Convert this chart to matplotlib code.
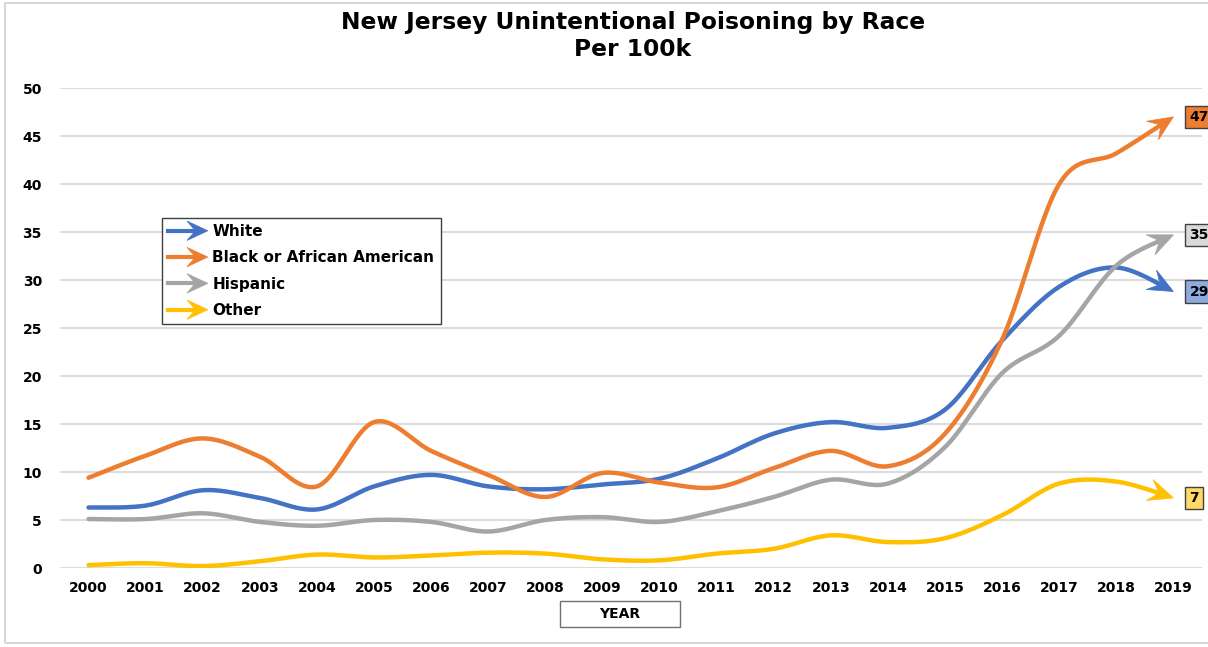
import numpy as np
import matplotlib.pyplot as plt
from matplotlib.lines import Line2D
from matplotlib.patches import Polygon, Rectangle
from matplotlib.transforms import IdentityTransform
from matplotlib.legend_handler import HandlerBase

# Unintentional poisoning rate per 100k, New Jersey
years = list(range(2000, 2020))
white = [6.3, 6.5, 8.1, 7.3, 6.1, 8.5, 9.7, 8.5, 8.2, 8.7,
         9.3, 11.4, 14.0, 15.2, 14.6, 16.5, 23.7, 29.3, 31.3, 28.8]
black = [9.4, 11.7, 13.5, 11.6, 8.5, 15.2, 12.2, 9.7, 7.4, 9.9,
         8.9, 8.4, 10.4, 12.2, 10.6, 14.0, 23.8, 40.0, 43.2, 47.0]
hispanic = [5.1, 5.1, 5.7, 4.8, 4.4, 5.0, 4.8, 3.8, 5.0, 5.3,
            4.8, 5.9, 7.4, 9.2, 8.8, 12.6, 20.3, 24.2, 31.5, 34.7]
other = [0.3, 0.5, 0.2, 0.7, 1.4, 1.1, 1.3, 1.6, 1.5, 0.9,
         0.8, 1.5, 2.0, 3.4, 2.7, 3.1, 5.5, 8.8, 9.0, 7.3]

series_names = ["White", "Black or African American", "Hispanic", "Other"]
series_values = [white, black, hispanic, other]
line_colors = ["#4472C4", "#ED7D31", "#A5A5A5", "#FFC000"]
box_colors = ["#8FAADC", "#ED7D31", "#D9D9D9", "#FFD966"]
y_ticks = [0, 5, 10, 15, 20, 25, 30, 35, 40, 45, 50]

W, H = 1208, 647
fig = plt.figure(figsize=(W / 100, H / 100), dpi=100)

# light chart-area border
fig.patches.append(Rectangle((5 / W, 4 / H), 1.2, 1 - 7 / H, transform=fig.transFigure,
                             fill=False, ec="#D0D0D0", lw=1.2, zorder=0))

ax = fig.add_axes([60 / W, 79 / H, 1142 / W, 480 / H])
ax.set_xlim(1999.5, 2019.5)
ax.set_ylim(0, 50)
ax.set_xticks(years)
ax.set_yticks(y_ticks)
ax.tick_params(length=0, labelsize=10)
ax.tick_params(axis="y", pad=13)
ax.tick_params(axis="x", pad=9)
for lab in ax.get_xticklabels() + ax.get_yticklabels():
    lab.set_fontweight("bold")
for s in ax.spines.values():
    s.set_visible(False)
ax.grid(axis="y", color="#D9D9D9", lw=1.3)
ax.set_axisbelow(True)


def smooth(x, y, n=40):
    # Bezier smoothing through every point (Catmull-Rom style control points)
    pts = np.column_stack([x, y]).astype(float)
    P = np.vstack([pts[0], pts, pts[-1]])
    out = []
    t = np.linspace(0, 1, n)[:, None]
    for i in range(len(pts) - 1):
        p0, p3 = pts[i], pts[i + 1]
        c1 = p0 + (P[i + 2] - P[i]) / 6
        c2 = p3 - (P[i + 3] - P[i + 1]) / 6
        seg = (1 - t) ** 3 * p0 + 3 * (1 - t) ** 2 * t * c1 + 3 * (1 - t) * t ** 2 * c2 + t ** 3 * p3
        out.append(seg if i == 0 else seg[1:])
    return np.vstack(out)


def head_polygon(tip, u, length, half, notch):
    v = np.array([-u[1], u[0]])
    return np.array([tip,
                     tip - length * u + half * v,
                     tip - notch * u,
                     tip - length * u - half * v])


HEAD_LEN, HEAD_HALF, HEAD_NOTCH = 25, 11, 15

for vals, col, bcol in zip(series_values, line_colors, box_colors):
    curve = smooth(years, vals)
    disp = ax.transData.transform(curve)
    tip = disp[-1]
    dist = np.hypot(*(disp - tip).T)
    keep = dist > HEAD_NOTCH - 2
    keep[: len(keep) // 2] = True
    ax.plot(curve[keep, 0], curve[keep, 1], color=col, lw=3.2,
            solid_capstyle="round", zorder=3)
    back = disp[np.argmin(np.abs(dist - 20))]
    u = (tip - back) / np.hypot(*(tip - back))
    ax.add_patch(Polygon(head_polygon(tip, u, HEAD_LEN, HEAD_HALF, HEAD_NOTCH),
                         closed=True, fc=col, ec=col, lw=0.5,
                         transform=IdentityTransform(), zorder=4, clip_on=False))
    ax.text(2019.28, vals[-1], f"{vals[-1]:.0f}", ha="left", va="center",
            fontsize=10, fontweight="bold", clip_on=False, zorder=5,
            bbox=dict(boxstyle="square,pad=0.3", fc=bcol, ec="#404040", lw=1))


class ArrowHandler(HandlerBase):
    def create_artists(self, legend, orig_handle, xdescent, ydescent,
                       width, height, fontsize, trans):
        col = orig_handle.get_color()
        y = height / 2 - ydescent
        x0, x1 = -xdescent, width - xdescent
        line = Line2D([x0, x1 - 8], [y, y], color=col, lw=3, transform=trans)
        head = Polygon(head_polygon(np.array([x1, y]), np.array([1.0, 0.0]), 15, 7, 9),
                       closed=True, fc=col, ec=col, lw=0.5, transform=trans)
        return [line, head]


handles = [Line2D([], [], color=c) for c in line_colors]
leg = ax.legend(handles, series_names, handler_map={Line2D: ArrowHandler()},
                loc="upper left", bbox_to_anchor=(102 / 1142, 350 / 480),
                borderaxespad=0, fancybox=False, framealpha=1,
                edgecolor="#404040", handlelength=2.6, handletextpad=0.3,
                labelspacing=0.74, borderpad=0.4, prop=dict(size=11, weight="bold"))
leg.get_frame().set_linewidth(1)

fig.text(0.5 + 29 / W, 1 - 22 / H, "New Jersey Unintentional Poisoning by Race",
         ha="center", va="center", fontsize=16.8, fontweight="bold")
fig.text(0.5 + 29 / W, 1 - 50 / H, "Per 100k", ha="center", va="center",
         fontsize=16.8, fontweight="bold")

# axis title in its own box
fig.patches.append(Rectangle((560 / W, 1 - 627 / H), 120 / W, 26 / H,
                             transform=fig.transFigure, fill=False,
                             ec="#707070", lw=1))
fig.text(620 / W, 1 - 614 / H, "YEAR", ha="center", va="center",
         fontsize=10, fontweight="bold")

fig.savefig("out.png", dpi=100)
